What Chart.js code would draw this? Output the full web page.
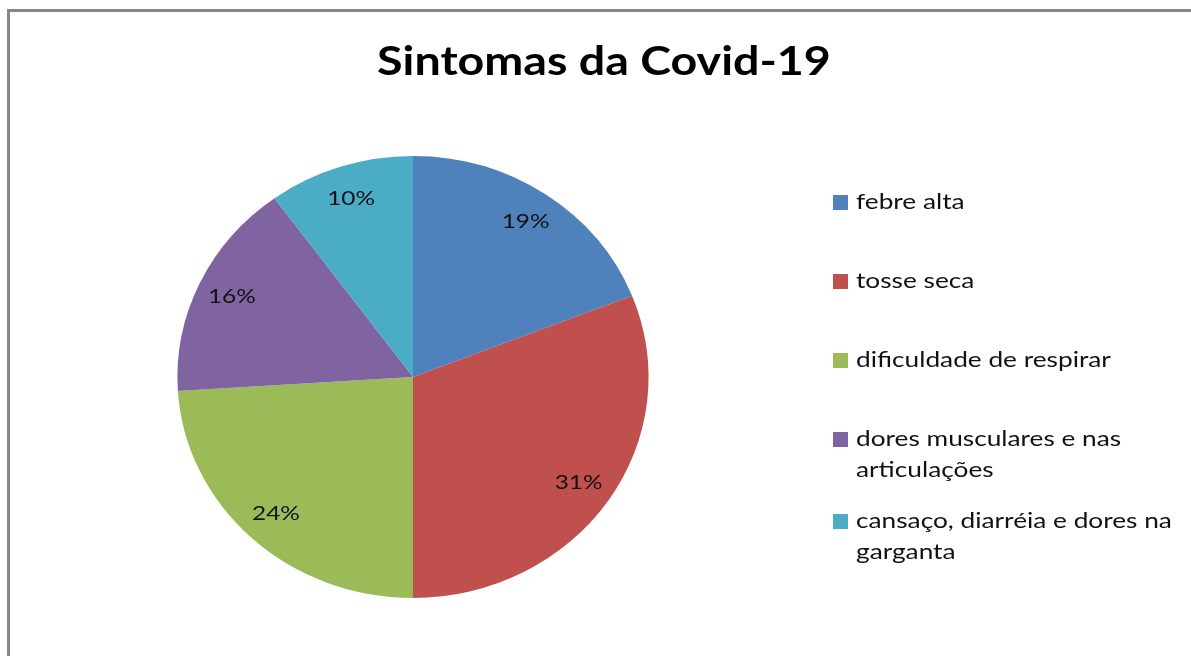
<!DOCTYPE html>
<html>
<head>
<meta charset="utf-8">
<script src="https://cdn.jsdelivr.net/npm/chart.js@4"></script>
<style>
  html, body { margin: 0; padding: 0; background: #fff; }
  #wrap { width: 1191px; height: 656px; }
</style>
</head>
<body>
<div id="wrap"><canvas id="pieChart" width="1191" height="656"></canvas></div>
<script>
const labels = [
  'febre alta',
  'tosse seca',
  'dificuldade de respirar',
  ['dores musculares e nas', 'articulações'],
  ['cansaço, diarréia e dores na', 'garganta']
];
const values = [19, 31, 24, 16, 10];
const colors = ['#4f81bd', '#c0504d', '#9bbb59', '#8064a2', '#4bacc6'];
const title = 'Sintomas da Covid-19';

const FONT = 'Lato, "Open Sans", sans-serif';
const STRETCH = 1.066; // the original picture is a little wider than tall

function text(c, s, x, y, sx) {
  c.save();
  c.translate(x, y);
  c.scale(sx, 1);
  c.fillText(s, 0, 0);
  c.restore();
}

// frame, title, data labels and legend drawn on the canvas
const extras = {
  id: 'extras',
  beforeDraw(chart) {
    const c = chart.ctx;
    c.save();
    c.fillStyle = '#fff';
    c.fillRect(0, 0, chart.width, chart.height);
    c.strokeStyle = '#878787';
    c.lineWidth = 3;
    c.strokeRect(8.5, 10.5, 1300, 800);
    c.restore();
  },
  beforeDatasetsDraw(chart) {
    const c = chart.ctx;
    const arc = chart.getDatasetMeta(0).data[0];
    c.save();
    c.translate(arc.x, 0);
    c.scale(STRETCH, 1);
    c.translate(-arc.x, 0);
  },
  afterDatasetsDraw(chart) {
    chart.ctx.restore();
  },
  afterDraw(chart) {
    const c = chart.ctx;
    c.save();
    c.fillStyle = '#000';
    c.textAlign = 'center';
    c.textBaseline = 'middle';
    c.font = 'bold 40px ' + FONT;
    text(c, title, 604, 62, 1.165);

    const meta = chart.getDatasetMeta(0);
    const total = values.reduce((a, b) => a + b, 0);
    c.font = '20px ' + FONT;
    c.fillStyle = '#111';
    meta.data.forEach((arc, i) => {
      const mid = (arc.startAngle + arc.endAngle) / 2;
      const r = arc.outerRadius * 0.85;
      text(c, Math.round(values[i] / total * 100) + '%',
        arc.x + Math.cos(mid) * r * STRETCH, arc.y + Math.sin(mid) * r, 1.22);
    });

    // legend
    const tops = [202, 281, 360, 439, 521];
    c.textAlign = 'left';
    c.font = '21px ' + FONT;
    labels.forEach((lab, i) => {
      const lines = Array.isArray(lab) ? lab : [lab];
      c.fillStyle = colors[i];
      c.fillRect(833, tops[i] - 7, 15, 15);
      c.fillStyle = '#111';
      lines.forEach((ln, j) => text(c, ln, 856, tops[i] + j * 31, 1.25));
    });
    c.restore();
  }
};

new Chart(document.getElementById('pieChart'), {
  type: 'pie',
  data: {
    labels: labels,
    datasets: [{
      data: values,
      backgroundColor: colors,
      borderWidth: 0
    }]
  },
  options: {
    responsive: false,
    animation: false,
    layout: { padding: { top: 156, bottom: 58, left: 192, right: 557 } },
    plugins: {
      legend: { display: false },
      title: { display: false },
      tooltip: { enabled: false }
    }
  },
  plugins: [extras]
});
</script>
</body>
</html>
